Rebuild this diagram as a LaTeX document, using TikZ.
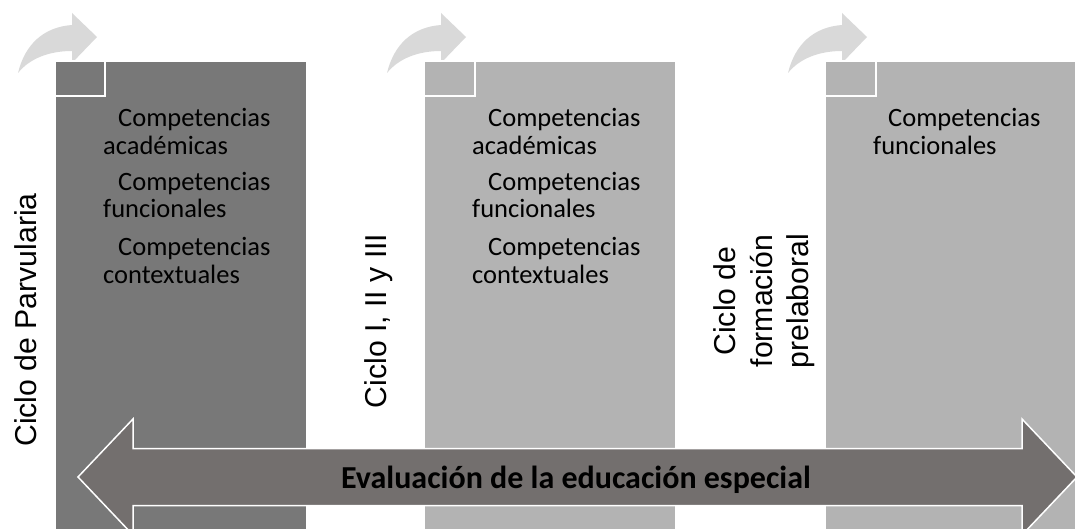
\documentclass[tikz,border=0pt]{standalone}
\usepackage{fontspec}
\setmainfont{Carlito}
\newfontfamily\lblfont{Liberation Sans}
\definecolor{boxdark}{HTML}{787878}
\definecolor{boxlight}{HTML}{B3B3B3}
\definecolor{bandfill}{HTML}{736F6E}
\definecolor{curvegray}{HTML}{D9D9D9}
\tikzset{
  curvearrow/.style={fill=curvegray, draw=none},
  darkbox/.style={fill=boxdark, draw=none},
  lightbox/.style={fill=boxlight, draw=none},
  cornerdark/.style={fill=boxdark, draw=white, line width=1.5pt},
  cornerlight/.style={fill=boxlight, draw=white, line width=1.5pt},
  band/.style={fill=bandfill, draw=white, line width=1.5pt, line join=miter},
  itemtext/.style={anchor=base west, inner sep=0pt, font=\fontsize{26.5}{28}\selectfont, text=black},
  cyclelabel/.style={rotate=90, anchor=base, inner sep=0pt, font=\lblfont\fontsize{30.2}{36}\selectfont, text=black},
  bandtext/.style={inner sep=0pt, anchor=base, font=\bfseries\fontsize{32}{36}\selectfont, text=black}
}
\begin{document}
\begin{tikzpicture}[x=1pt,y=-1pt]
\useasboundingbox (0,0) rectangle (1075,529);
\clip (0,0) rectangle (1075,529);
% curved arrows
\foreach \L in {56,425,826}{
  \begin{scope}[xshift=\L pt]
    \fill[curvearrow] (-38,73) .. controls (-31,44) and (-12,27) .. (16,25) -- (16,13) -- (41,37) -- (16,63) -- (16,51) .. controls (-6,51) and (-26,58) .. (-38,73) -- cycle;
  \end{scope}
}
% boxes
\fill[darkbox] (56,62) rectangle (306,529);
\fill[lightbox] (425,62) rectangle (675,529);
\fill[lightbox] (826,62) rectangle (1076,529);
\draw[cornerdark] (55,61) rectangle (105,96);
\draw[cornerlight] (424,61) rectangle (475,96);
\draw[cornerlight] (825,61) rectangle (876,96);
% box texts
\node[itemtext] (a1) at (118,127) {Competencias};
\node[itemtext] (a2) at (103,155) {académicas};
\node[itemtext] (a3) at (118,191) {Competencias};
\node[itemtext] (a4) at (103,218) {funcionales};
\node[itemtext] (a5) at (118,255) {Competencias};
\node[itemtext] (a6) at (103,283) {contextuales};
\node[itemtext] (b1) at (488,127) {Competencias};
\node[itemtext] (b2) at (472,155) {académicas};
\node[itemtext] (b3) at (488,191) {Competencias};
\node[itemtext] (b4) at (472,218) {funcionales};
\node[itemtext] (b5) at (488,255) {Competencias};
\node[itemtext] (b6) at (472,283) {contextuales};
\node[itemtext] (c1) at (888,127) {Competencias};
\node[itemtext] (c2) at (873,155) {funcionales};
% cycle labels
\node[cyclelabel] (p1) at (36,320) {Ciclo de Parvularia};
\node[cyclelabel] (p2) at (386,321) {Ciclo I, II y III};
\node[cyclelabel] (p3a) at (735,301) {Ciclo de};
\node[cyclelabel] (p3b) at (772,301) {formación};
\node[cyclelabel] (p3c) at (808,301) {prelaboral};
% double arrow band
\draw[band] (78,477) -- (133,419) -- (133,448.5) -- (1022,448.5) -- (1022,419) -- (1077,477) -- (1022,535) -- (1022,505.5) -- (133,505.5) -- (133,535) -- cycle;
\node[bandtext] (ev) at (576,488) {Evaluación de la educación especial};
\end{tikzpicture}
\end{document}
